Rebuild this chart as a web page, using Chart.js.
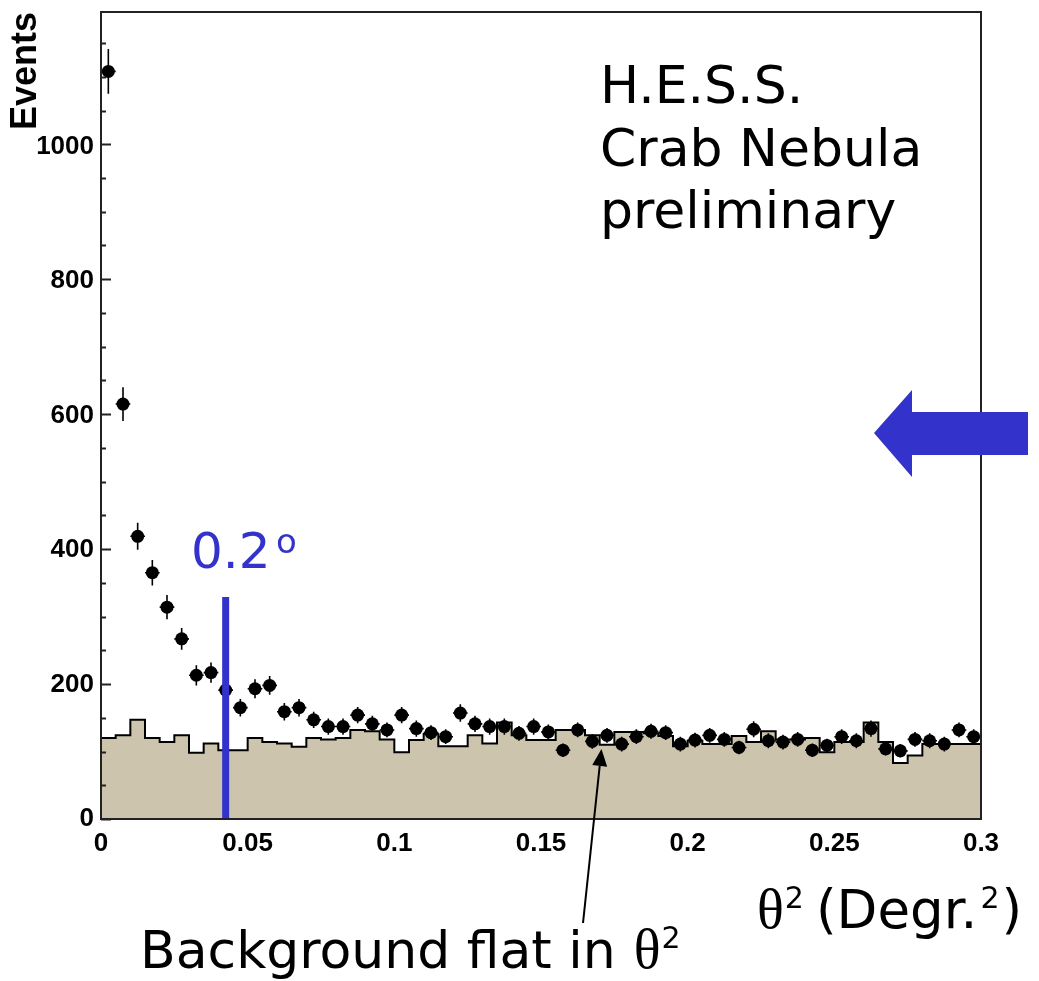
<!DOCTYPE html>
<html>
<head>
<meta charset="utf-8">
<script src="https://cdn.jsdelivr.net/npm/chart.js@4.4.1/dist/chart.umd.min.js"></script>
<style>
  html, body { margin: 0; padding: 0; background: #fff; }
  #wrap { width: 1039px; height: 981px; }
</style>
</head>
<body>
<div id="wrap"><canvas id="thetaChart"></canvas></div>
<script>
// theta^2 histogram, 60 bins of 0.005 degr^2
const binWidth = 0.005;

// ON counts (points)
const onCounts = [1108, 615, 419, 365, 314, 267, 213, 217, 191, 165,
                  193, 198, 159, 165, 147, 137, 137, 154, 141, 132,
                  154, 134, 128, 122, 157, 141, 137, 137, 127, 137,
                  129, 102, 132, 115, 124, 111, 122, 130, 128, 111,
                  117, 124, 118, 106, 133, 116, 114, 118, 102, 109,
                  122, 116, 134, 104, 101, 118, 116, 111, 132, 122];
const onErrors = [33, 25, 20, 19, 18, 16, 15, 15, 14, 13,
                  14, 14, 13, 13, 12, 12, 12, 12, 12, 11,
                  12, 12, 11, 11, 13, 12, 12, 12, 11, 12,
                  11, 10, 11, 11, 11, 11, 11, 11, 11, 11,
                  11, 11, 11, 10, 12, 11, 11, 11, 10, 10,
                  11, 11, 12, 10, 10, 11, 11, 11, 11, 11];
// OFF (background) histogram
const offCounts = [120, 120, 124, 147, 120, 114, 124, 98, 112, 102,
                   102, 120, 114, 112, 107, 120, 118, 120, 132, 130,
                   118, 99, 117, 126, 108, 108, 124, 112, 143, 124,
                   117, 117, 132, 132, 124, 110, 129, 129, 127, 123,
                   108, 116, 111, 111, 123, 114, 130, 118, 118, 120,
                   99, 114, 114, 143, 114, 83, 94, 111, 111, 111];

const cutTheta2 = 0.0425;
const cutTop = 329;

const xTickLabels = ['0', '0.05', '0.1', '0.15', '0.2', '0.25', '0.3'];
const yTickLabels = ['0', '200', '400', '600', '800', '1000'];

const binCenters = onCounts.map((_, i) => (i + 0.5) * binWidth);
const binEdges = offCounts.map((_, i) => i * binWidth);

const onData = onCounts.map((n, i) => ({ x: binCenters[i], y: n }));
const offData = offCounts.map((n, i) => ({ x: binEdges[i], y: n }));
offData.push({ x: offCounts.length * binWidth, y: offCounts[offCounts.length - 1] });

const BLUE = '#3333cc';
const tickFont = { family: 'Liberation Sans', weight: 'bold', size: 26 };

// error bars, drawn right after the background histogram
const errorBars = {
    id: 'errorBars',
    afterDatasetDraw(chart, args) {
        if (args.index !== 1) return;
        const { ctx, scales: { x, y } } = chart;
        ctx.save();
        ctx.strokeStyle = '#000';
        ctx.lineWidth = 1.6;
        ctx.beginPath();
        onCounts.forEach((n, i) => {
            const px = x.getPixelForValue(binCenters[i]);
            const py = y.getPixelForValue(n);
            ctx.moveTo(px, y.getPixelForValue(n - onErrors[i]));
            ctx.lineTo(px, y.getPixelForValue(n + onErrors[i]));
            ctx.moveTo(x.getPixelForValue(binCenters[i] - binWidth / 2), py);
            ctx.lineTo(x.getPixelForValue(binCenters[i] + binWidth / 2), py);
        });
        ctx.stroke();
        ctx.restore();
    }
};

// writes pieces one after another, each with its own font and baseline
function writeRun(ctx, x, pieces) {
    pieces.forEach(p => {
        ctx.font = p.font;
        x += p.gap || 0;
        ctx.fillText(p.text, x, p.base);
        x += ctx.measureText(p.text).width;
    });
}

// frame, inner ticks and the text annotations
const decorations = {
    id: 'decorations',
    afterDraw(chart) {
        const { ctx, chartArea: a, scales: { y } } = chart;
        ctx.save();

        // frame
        ctx.strokeStyle = '#222';
        ctx.lineWidth = 2;
        ctx.strokeRect(a.left, a.top, a.right - a.left, a.bottom - a.top);

        // y ticks pointing into the plot
        ctx.beginPath();
        for (let v = 0; v <= 1150; v += 50) {
            const py = Math.round(y.getPixelForValue(v)) + 0.5;
            const len = v % 200 === 0 ? 10 : 5;
            ctx.moveTo(a.left, py);
            ctx.lineTo(a.left + len, py);
        }
        ctx.stroke();

        // big blue arrow
        ctx.fillStyle = BLUE;
        ctx.beginPath();
        ctx.moveTo(874, 433);
        ctx.lineTo(912, 390);
        ctx.lineTo(912, 412);
        ctx.lineTo(1028, 412);
        ctx.lineTo(1028, 455);
        ctx.lineTo(912, 455);
        ctx.lineTo(912, 477);
        ctx.closePath();
        ctx.fill();

        // source text
        ctx.fillStyle = '#000';
        ctx.textBaseline = 'alphabetic';
        ctx.textAlign = 'left';
        ctx.font = '52px "DejaVu Sans"';
        ctx.fillText('H.E.S.S.', 600, 103);
        ctx.fillText('Crab Nebula', 600, 166);
        ctx.fillText('preliminary', 600, 228);

        // 0.2 degree label
        ctx.fillStyle = BLUE;
        ctx.font = '50px "DejaVu Sans"';
        ctx.fillText('0.2', 191, 568);
        ctx.font = '34px "DejaVu Sans"';
        ctx.fillText('o', 276, 553);

        // x axis title
        ctx.fillStyle = '#000';
        writeRun(ctx, 757, [
            { text: 'θ', font: '56px "Liberation Serif"', base: 928 },
            { text: '2', font: '30px "DejaVu Sans"', base: 908, gap: 1 },
            { text: '(Degr.', font: '53px "DejaVu Sans"', base: 928, gap: 12 },
            { text: '2', font: '30px "DejaVu Sans"', base: 908, gap: 3 },
            { text: ')', font: '53px "DejaVu Sans"', base: 928, gap: 2 }
        ]);

        // background note
        writeRun(ctx, 140, [
            { text: 'Background flat in', font: '52px "DejaVu Sans"', base: 968 },
            { text: 'θ', font: '56px "Liberation Serif"', base: 968, gap: 18 },
            { text: '2', font: '30px "DejaVu Sans"', base: 948, gap: 1 }
        ]);

        // thin pointer arrow
        const x0 = 583, y0 = 923, x1 = 601.5, y1 = 749;
        const ang = Math.atan2(y1 - y0, x1 - x0);
        const hl = 17, hw = 7.5;
        const bx = x1 - hl * Math.cos(ang), by = y1 - hl * Math.sin(ang);
        ctx.strokeStyle = '#000';
        ctx.lineWidth = 2;
        ctx.beginPath();
        ctx.moveTo(x0, y0);
        ctx.lineTo(bx, by);
        ctx.stroke();
        ctx.beginPath();
        ctx.moveTo(x1, y1);
        ctx.lineTo(bx + hw * Math.sin(ang), by - hw * Math.cos(ang));
        ctx.lineTo(bx - hw * Math.sin(ang), by + hw * Math.cos(ang));
        ctx.closePath();
        ctx.fill();

        ctx.restore();
    }
};

const ctx = document.getElementById('thetaChart').getContext('2d');
const thetaChart = new Chart(ctx, {
    type: 'line',
    data: {
        datasets: [{
            label: 'cut',
            data: [{ x: cutTheta2, y: 0 }, { x: cutTheta2, y: cutTop }],
            borderColor: BLUE,
            borderWidth: 7,
            borderCapStyle: 'butt',
            pointRadius: 0,
            order: 1
        }, {
            label: 'ON',
            data: onData,
            showLine: false,
            pointRadius: 6.5,
            pointBackgroundColor: '#000',
            pointBorderWidth: 0,
            order: 2
        }, {
            label: 'OFF',
            data: offData,
            stepped: 'after',
            fill: 'origin',
            backgroundColor: 'rgb(204, 196, 172)',
            borderColor: '#000',
            borderWidth: 2,
            pointRadius: 0,
            order: 3
        }]
    },
    options: {
        responsive: true,
        maintainAspectRatio: false,
        animation: false,
        layout: { padding: { top: 12, right: 58, bottom: 122, left: 0 } },
        plugins: {
            legend: { display: false },
            tooltip: { enabled: false }
        },
        scales: {
            x: {
                type: 'linear',
                min: 0,
                max: 0.3,
                grid: { display: false, drawTicks: false, tickLength: 0 },
                border: { display: false },
                ticks: {
                    stepSize: 0.05,
                    autoSkip: false,
                    maxRotation: 0,
                    padding: 9,
                    color: '#000',
                    font: tickFont,
                    callback: (v, i) => xTickLabels[i] ?? ''
                },
                afterFit: s => { s.height = 40; s.paddingLeft = 0; s.paddingRight = 0; }
            },
            y: {
                min: 0,
                max: 1196,
                grid: { display: false, drawTicks: false, tickLength: 0 },
                border: { display: false },
                ticks: {
                    stepSize: 200,
                    padding: 7,
                    color: '#000',
                    font: tickFont,
                    callback: (v, i) => yTickLabels[i] ?? ''
                },
                title: {
                    display: true,
                    text: 'Events',
                    align: 'end',
                    color: '#000',
                    font: { family: 'Liberation Sans', weight: 'bold', size: 36 },
                    padding: { top: 4, bottom: 0 }
                },
                afterFit: s => { s.width = 101; s.paddingTop = 0; s.paddingBottom = 0; }
            }
        }
    },
    plugins: [errorBars, decorations]
});
</script>
</body>
</html>
